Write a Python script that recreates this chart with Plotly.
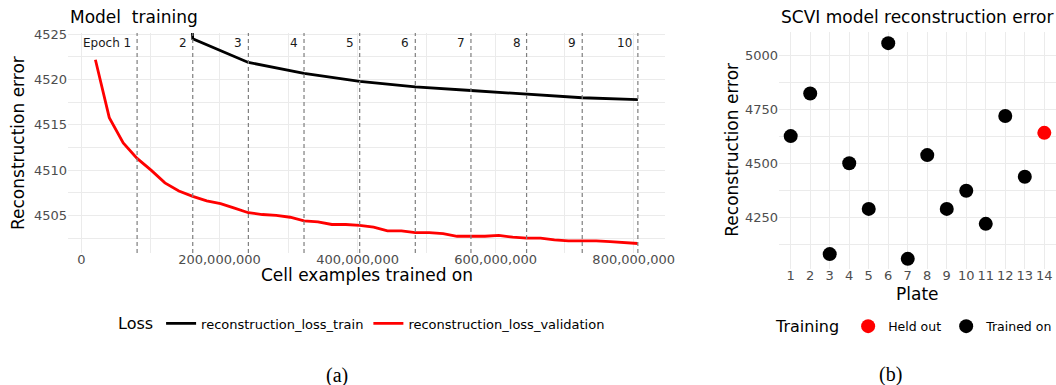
import plotly.graph_objects as go

# ---------------- Panel (a): model training ----------------
epoch_labels = ["Epoch 1", "2", "3", "4", "5", "6", "7", "8", "9", "10"]
epoch_end_cells = [80.6e6, 161.2e6, 241.8e6, 322.4e6, 403.0e6,
                   483.6e6, 564.2e6, 644.8e6, 725.4e6, 806.0e6]

train_cells = [80.6e6, 161.2e6, 241.8e6, 322.4e6, 403.0e6,
               483.6e6, 564.2e6, 644.8e6, 725.4e6, 806.0e6]
train_loss = [4650.0, 4524.5, 4521.9, 4520.7, 4519.8,
              4519.2, 4518.8, 4518.4, 4518.0, 4517.8]

val_cells = [20.2e6, 40.3e6, 60.5e6, 80.6e6, 100.8e6, 120.9e6, 141.1e6, 161.2e6,
             181.4e6, 201.5e6, 221.7e6, 241.8e6, 262.0e6, 282.1e6, 302.3e6, 322.4e6,
             342.6e6, 362.7e6, 382.9e6, 403.0e6, 423.2e6, 443.3e6, 463.5e6, 483.6e6,
             503.8e6, 523.9e6, 544.1e6, 564.2e6, 584.4e6, 604.5e6, 624.7e6, 644.8e6,
             665.0e6, 685.1e6, 705.3e6, 725.4e6, 745.6e6, 765.7e6, 785.9e6, 806.0e6]
val_loss = [4522.2, 4515.8, 4513.0, 4511.3, 4510.0, 4508.6, 4507.7, 4507.1,
            4506.6, 4506.3, 4505.8, 4505.3, 4505.1, 4505.0, 4504.8, 4504.4,
            4504.3, 4504.0, 4504.0, 4503.9, 4503.7, 4503.3, 4503.3, 4503.1,
            4503.1, 4503.0, 4502.7, 4502.7, 4502.7, 4502.8, 4502.6, 4502.5,
            4502.5, 4502.3, 4502.2, 4502.2, 4502.2, 4502.1, 4502.0, 4501.9]

x_ticks_a = [0, 200e6, 400e6, 600e6, 800e6]
y_ticks_a = [4505, 4510, 4515, 4520, 4525]

# ---------------- Panel (b): reconstruction error per plate ----------------
plates = [1, 2, 3, 4, 5, 6, 7, 8, 9, 10, 11, 12, 13, 14]
plate_error = [4627, 4824, 4081, 4501, 4290, 5057, 4059, 4539, 4290, 4374, 4221, 4720, 4439, 4642]
plate_training = ["Trained on"] * 13 + ["Held out"]
y_ticks_b = [4250, 4500, 4750, 5000]

FONT = "DejaVu Sans"
GRID = "#EBEBEB"
TICK = "#4D4D4D"
W, H = 1056, 385

def px_x(p):
    return p / W

def px_y(p):
    return 1 - p / H

fig = go.Figure()

fig.add_trace(go.Scatter(x=train_cells, y=train_loss, mode="lines",
                         line=dict(color="black", width=2.8),
                         name="reconstruction_loss_train", xaxis="x", yaxis="y",
                         legend="legend"))
fig.add_trace(go.Scatter(x=val_cells, y=val_loss, mode="lines",
                         line=dict(color="#FF0000", width=2.8),
                         name="reconstruction_loss_validation", xaxis="x", yaxis="y",
                         legend="legend"))

for grp, col in [("Held out", "#FF0000"), ("Trained on", "black")]:
    xs = [p for p, t in zip(plates, plate_training) if t == grp]
    ys = [e for e, t in zip(plate_error, plate_training) if t == grp]
    fig.add_trace(go.Scatter(x=xs, y=ys, mode="markers",
                             marker=dict(color=col, size=14),
                             name=grp, xaxis="x2", yaxis="y2", legend="legend2"))

# epoch boundaries
for xe, lab in zip(epoch_end_cells, epoch_labels):
    fig.add_shape(type="line", xref="x", yref="y domain", x0=xe, x1=xe, y0=0, y1=1,
                  line=dict(color="#7F7F7F", width=1.2, dash="4px,3px"), layer="above")
    fig.add_annotation(x=xe, xref="x", y=px_y(43), yref="paper", text=lab,
                       showarrow=False, xanchor="right", yanchor="middle", xshift=-4,
                       font=dict(family=FONT, size=12, color="#1A1A1A"))

axis_common = dict(showgrid=True, gridcolor=GRID, gridwidth=1.4, zeroline=False,
                   showline=False, ticks="", automargin=False,
                   tickfont=dict(family=FONT, size=13, color=TICK))

fig.update_layout(
    width=W, height=H,
    margin=dict(l=0, r=0, t=0, b=0, pad=0, autoexpand=False),
    paper_bgcolor="white", plot_bgcolor="white",
    font=dict(family=FONT, color="black"),
    xaxis=dict(domain=[px_x(68), px_x(665)], range=[-19.5e6, 845.3e6], anchor="y",
               tickvals=x_ticks_a, tickformat=",", ticklabelstandoff=-3,
               minor=dict(dtick=100e6, tick0=0, showgrid=True, gridcolor=GRID, gridwidth=0.7),
               **axis_common),
    yaxis=dict(domain=[px_y(253), px_y(33)], range=[4500.85, 4525.15], anchor="x",
               tickvals=y_ticks_a,
               minor=dict(dtick=2.5, tick0=4500, showgrid=True, gridcolor=GRID, gridwidth=0.7),
               **axis_common),
    xaxis2=dict(domain=[px_x(779), 1.0], range=[0.4, 14.6], anchor="y2",
                tickvals=plates, ticklabelstandoff=-3, **axis_common),
    yaxis2=dict(domain=[px_y(269), px_y(31.7)], range=[4012, 5110], anchor="x2",
                tickvals=y_ticks_b,
                minor=dict(dtick=125, tick0=4000, showgrid=True, gridcolor=GRID, gridwidth=0.7),
                **axis_common),
    legend=dict(orientation="h", x=px_x(116), y=px_y(324), xanchor="left", yanchor="middle",
                title=dict(text="Loss", font=dict(family=FONT, size=16, color="black")),
                font=dict(family=FONT, size=13, color="black"),
                itemwidth=30, bgcolor="rgba(0,0,0,0)"),
    legend2=dict(orientation="h", x=px_x(774), y=px_y(327), xanchor="left", yanchor="middle",
                 title=dict(text="Training", font=dict(family=FONT, size=16, color="black")),
                 font=dict(family=FONT, size=12.5, color="black"),
                 itemwidth=30, bgcolor="rgba(0,0,0,0)"),
    showlegend=True,
)

texts = [
    dict(text="Model\u00a0 training", x=px_x(68), y=px_y(17), xanchor="left", size=17),
    dict(text="SCVI model reconstruction error", x=px_x(779), y=px_y(17), xanchor="left", size=17),
    dict(text="Cell examples trained on", x=px_x(366.5), y=px_y(275), xanchor="center", size=17),
    dict(text="Plate", x=px_x(917), y=px_y(294), xanchor="center", size=17),
]
for t in texts:
    fig.add_annotation(text=t["text"], x=t["x"], y=t["y"], xref="paper", yref="paper",
                       xanchor=t["xanchor"], yanchor="middle", showarrow=False,
                       font=dict(family=FONT, size=t["size"], color="black"))

for txt, xc, yc in [("Reconstruction error", 18, 143), ("Reconstruction error", 731.7, 150)]:
    fig.add_annotation(text=txt, x=px_x(xc), y=px_y(yc), xref="paper", yref="paper",
                       xanchor="center", yanchor="middle", textangle=-90, showarrow=False,
                       font=dict(family=FONT, size=17, color="black"))

for txt, xc, yc in [("(a)", 336.5, 375.5), ("(b)", 890, 374.5)]:
    fig.add_annotation(text=txt, x=px_x(xc), y=px_y(yc), xref="paper", yref="paper",
                       xanchor="center", yanchor="middle", showarrow=False,
                       font=dict(family="Liberation Serif", size=20, color="black"))

fig.write_html(
    "out.html",
    config={"displayModeBar": False},
    post_script="document.body.style.margin='0';document.body.style.padding='0';"
                "document.documentElement.style.overflow='hidden';"
                "document.body.style.overflow='hidden';",
)
